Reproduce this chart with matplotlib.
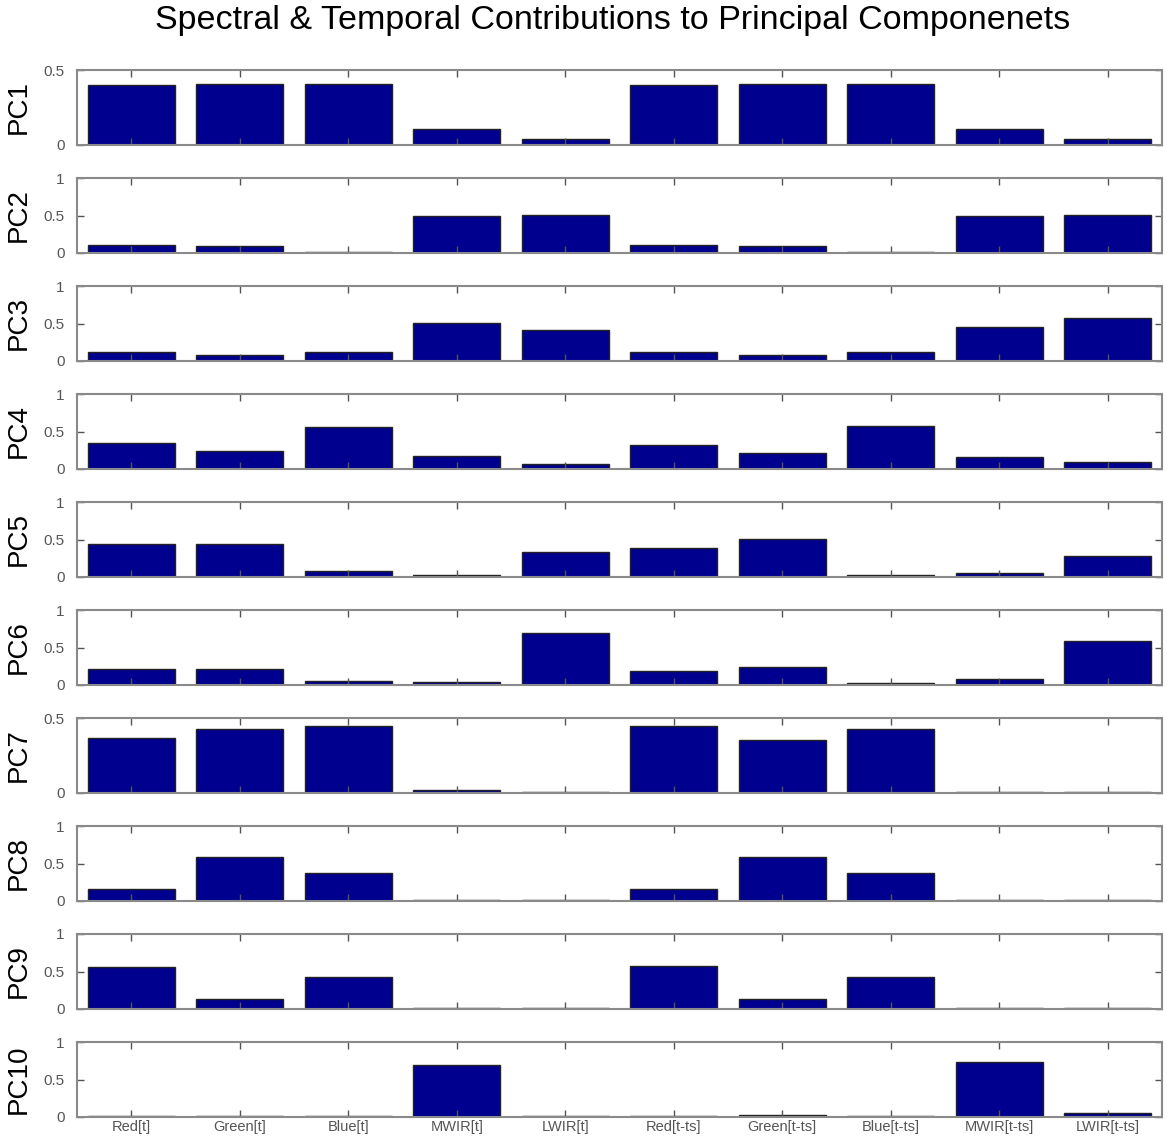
import matplotlib
matplotlib.use("Agg")
import matplotlib.pyplot as plt
import numpy as np

plt.rcParams['font.family'] = ['Liberation Sans', 'DejaVu Sans']

categories = ["Red[t]", "Green[t]", "Blue[t]", "MWIR[t]", "LWIR[t]",
              "Red[t-ts]", "Green[t-ts]", "Blue[t-ts]", "MWIR[t-ts]", "LWIR[t-ts]"]

pc_names = ["PC1", "PC2", "PC3", "PC4", "PC5", "PC6", "PC7", "PC8", "PC9", "PC10"]

pc1 = [0.40, 0.41, 0.41, 0.105, 0.04, 0.40, 0.41, 0.41, 0.105, 0.04]
pc2 = [0.11, 0.10, 0.02, 0.50, 0.51, 0.11, 0.10, 0.02, 0.50, 0.51]
pc3 = [0.12, 0.08, 0.12, 0.51, 0.42, 0.12, 0.08, 0.12, 0.45, 0.58]
pc4 = [0.35, 0.24, 0.56, 0.17, 0.07, 0.32, 0.21, 0.575, 0.155, 0.10]
pc5 = [0.445, 0.445, 0.08, 0.03, 0.34, 0.39, 0.51, 0.025, 0.05, 0.28]
pc6 = [0.22, 0.22, 0.06, 0.045, 0.70, 0.19, 0.245, 0.03, 0.08, 0.59]
pc7 = [0.368, 0.424, 0.45, 0.02, 0.005, 0.444, 0.356, 0.428, 0.005, 0.005]
pc8 = [0.158, 0.59, 0.38, 0.02, 0.02, 0.158, 0.59, 0.38, 0.02, 0.02]
pc9 = [0.56, 0.13, 0.43, 0.02, 0.02, 0.57, 0.13, 0.43, 0.02, 0.02]
pc10 = [0.02, 0.02, 0.02, 0.69, 0.02, 0.02, 0.03, 0.02, 0.74, 0.055]

loadings = [pc1, pc2, pc3, pc4, pc5, pc6, pc7, pc8, pc9, pc10]
y_limits = [0.5, 1, 1, 1, 1, 1, 0.5, 1, 1, 1]

bar_color = "#00008F"
spine_color = "#8a8a8a"
label_color = "#555555"

W, H = 1167, 1139
fig = plt.figure(figsize=(W / 100, H / 100), dpi=100)

left_px, right_px = 77, 1162
top0_px, step_px, height_px = 70, 108, 75
x = np.arange(1, len(categories) + 1)

for k, (name, vals, ymax) in enumerate(zip(pc_names, loadings, y_limits)):
    top = top0_px + step_px * k
    ax = fig.add_axes([left_px / W, 1 - (top + height_px) / H,
                       (right_px - left_px) / W, height_px / H])
    ax.bar(x, vals, width=0.8, color=bar_color, edgecolor="#222222", linewidth=1.0)
    ax.set_xlim(0.5, 10.5)
    ax.set_ylim(0, ymax)
    if ymax == 0.5:
        ax.set_yticks([0, 0.5])
        ax.set_yticklabels(["0", "0.5"])
    else:
        ax.set_yticks([0, 0.5, 1])
        ax.set_yticklabels(["0", "0.5", "1"])
    ax.set_xticks(x)
    if k == len(pc_names) - 1:
        ax.set_xticklabels(categories, fontsize=10.5, color=label_color)
    else:
        ax.set_xticklabels([])
    ax.tick_params(axis="both", direction="in", length=5, width=1,
                   color="#555555", top=True, right=True, pad=2)
    ax.tick_params(axis="y", labelsize=11, labelcolor=label_color, pad=9)
    for sp in ax.spines.values():
        sp.set_color(spine_color)
        sp.set_linewidth(1.5)
    ax.set_ylabel(name, fontsize=20)
    ax.yaxis.set_label_coords(-45 / (right_px - left_px), 0.5)

fig.text(613 / W, 1 - 21 / H, "Spectral & Temporal Contributions to Principal Componenets",
         ha="center", va="center", fontsize=24.5)

fig.savefig("out.png", dpi=100)
